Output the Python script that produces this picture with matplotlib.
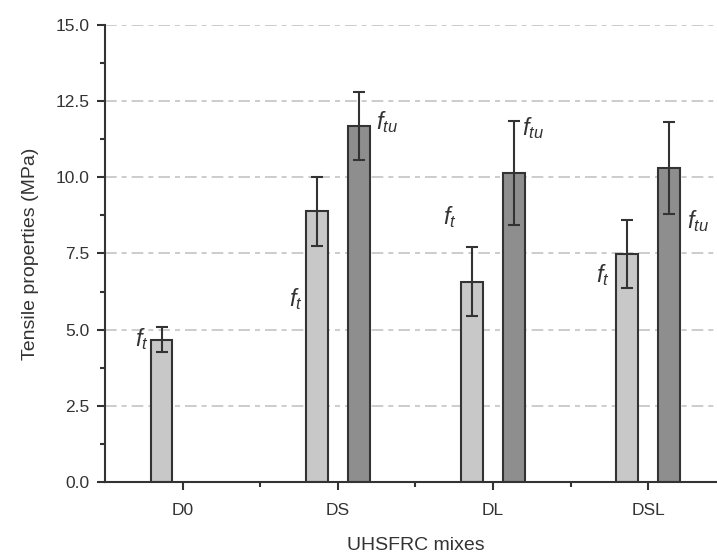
import matplotlib
matplotlib.use("Agg")
import matplotlib.pyplot as plt
import numpy as np

mixes = ["D0", "DS", "DL", "DSL"]
ft = [4.67, 8.88, 6.57, 7.48]
ft_err = [0.40, 1.14, 1.13, 1.12]
ftu_mixes = ["DS", "DL", "DSL"]
ftu = [11.68, 10.15, 10.30]
ftu_err = [1.12, 1.70, 1.52]

# where the f_t / f_tu tags sit (x in category units, y in MPa)
ft_tags = [(0.74, 4.68), (1.73, 6.0), (2.72, 8.7), (3.71, 6.8)]
ftu_tags = [(2.32, 11.8), (3.26, 11.6), (4.32, 8.55)]

plt.rcParams["font.family"] = ["Liberation Sans", "DejaVu Sans"]
plt.rcParams["mathtext.fontset"] = "custom"
plt.rcParams["mathtext.it"] = "Liberation Sans:italic"
plt.rcParams["mathtext.rm"] = "Liberation Sans"

ink = "#333333"
fig = plt.figure(figsize=(7.17, 5.54), dpi=100)
ax = fig.add_axes([0.1464, 0.13, 0.866, 0.825])

x = np.arange(1, len(mixes) + 1)
xu = np.array([mixes.index(m) + 1 for m in ftu_mixes])
w = 0.14
off = 0.135

for yv in np.arange(2.5, 15.01, 2.5):
    ax.axhline(yv, color="#c4c4c4", lw=1.2, dashes=(7, 3, 3, 3), zorder=0)

ax.bar(x - off, ft, w, color="#c8c8c8", edgecolor=ink, lw=1.5, zorder=2)
ax.bar(xu + off, ftu, w, color="#8e8e8e", edgecolor=ink, lw=1.5, zorder=2)
ax.errorbar(x - off, ft, yerr=ft_err, fmt="none", ecolor=ink, elinewidth=1.5,
            capsize=4.2, capthick=1.5, zorder=3)
ax.errorbar(xu + off, ftu, yerr=ftu_err, fmt="none", ecolor=ink, elinewidth=1.5,
            capsize=4.2, capthick=1.5, zorder=3)

for tx, ty in ft_tags:
    ax.text(tx, ty, r"$f_t$", fontsize=17, color=ink, ha="center", va="center")
for tx, ty in ftu_tags:
    ax.text(tx, ty, r"$f_{tu}$", fontsize=17, color=ink, ha="center", va="center")

ax.set_xlim(0.5, 4.5)
ax.set_ylim(0, 15)
ax.set_xticks(x)
ax.set_xticklabels(mixes)
ax.set_xticks([1.5, 2.5, 3.5], minor=True)
ax.set_yticks(np.arange(0, 15.01, 2.5))
ax.set_yticks(np.arange(1.25, 15, 2.5), minor=True)
ax.yaxis.set_major_formatter(matplotlib.ticker.FormatStrFormatter("%.1f"))

for s in ["top", "right"]:
    ax.spines[s].set_visible(False)
for s in ["left", "bottom"]:
    ax.spines[s].set_color(ink)
    ax.spines[s].set_linewidth(1.5)
ax.tick_params(which="major", length=6, width=1.5, color=ink, labelcolor=ink,
               labelsize=12.5, pad=5)
ax.tick_params(axis="x", which="major", pad=9)
ax.tick_params(which="minor", length=3.5, width=1.5, color=ink)

ax.set_xlabel("UHSFRC mixes", fontsize=14, color=ink, labelpad=14)
ax.set_ylabel("Tensile properties (MPa)", fontsize=14, color=ink, labelpad=12)

fig.savefig("out.png", dpi=100)
